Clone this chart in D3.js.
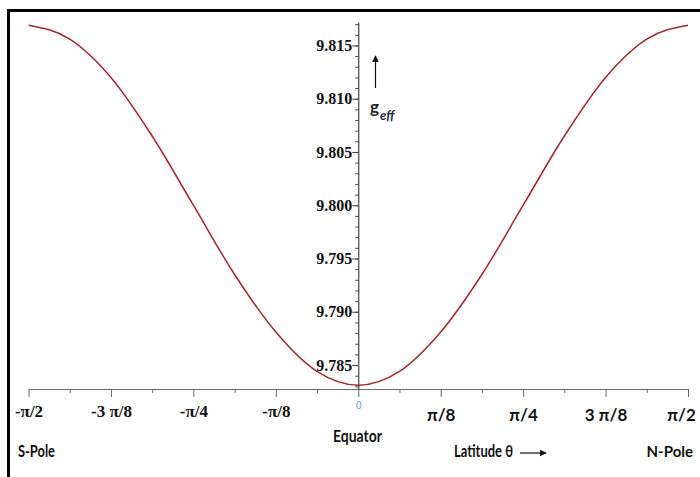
<!DOCTYPE html>
<html>
<head>
<meta charset="utf-8">
<script src="https://cdn.jsdelivr.net/npm/d3@7"></script>
<style>
  body { margin: 0; background: #fff; }
  svg { display: block; }
</style>
</head>
<body>
<div id="chart"></div>
<script>
// latitude in multiples of pi/16, from S-pole to N-pole
const latitudeSteps = [-8, -7, -6, -5, -4, -3, -2, -1, 0, 1, 2, 3, 4, 5, 6, 7, 8];
// effective gravity
const gEff = [9.8169, 9.8156, 9.8120, 9.8065, 9.8000, 9.7935, 9.7881, 9.7844, 9.7831,
              9.7844, 9.7881, 9.7935, 9.8000, 9.8065, 9.8120, 9.8156, 9.8169];
// x tick labels (multiples of pi/8)
const xTickSteps = [-4, -3, -2, -1, 0, 1, 2, 3, 4];
const xTickLabels = ['-π/2', '-3 π/8', '-π/4', '-π/8', '0', 'π/8', 'π/4', '3 π/8', 'π/2'];
const yMajorTicks = [9.785, 9.790, 9.795, 9.800, 9.805, 9.810, 9.815];
const yMinorTicks = d3.range(9.783, 9.8175, 0.001);

const width = 700, height = 477;

const svg = d3.select('#chart').append('svg')
  .attr('width', width)
  .attr('height', height);

// frame (top and left edges visible)
svg.append('path')
  .attr('d', 'M8.5,477 L8.5,10.5 L700,10.5')
  .attr('fill', 'none')
  .attr('stroke', '#000')
  .attr('stroke-width', 3);

const x = d3.scaleLinear().domain([-Math.PI / 2, Math.PI / 2]).range([28.5, 688]);
const y = d3.scaleLinear().domain([9.78275, 9.8172]).range([389, 22]);

const x0 = x(0), yAxisY = 389;

// x axis: minor ticks every pi/16
const xMinor = svg.append('g')
  .attr('transform', `translate(0,${yAxisY})`)
  .call(d3.axisBottom(x)
    .tickValues(d3.range(-7, 8, 2).map(k => k * Math.PI / 16))
    .tickSize(4).tickSizeOuter(0).tickFormat(''));
xMinor.select('.domain').remove();
xMinor.selectAll('line').attr('stroke', '#6a6a6a');

const xAxis = svg.append('g')
  .attr('transform', `translate(0,${yAxisY})`)
  .call(d3.axisBottom(x)
    .tickValues(xTickSteps.map(k => k * Math.PI / 8))
    .tickSize(8).tickSizeOuter(0)
    .tickFormat((d, i) => xTickLabels[i]));
xAxis.select('.domain').attr('stroke', '#6a6a6a').attr('stroke-width', 1.2);
xAxis.selectAll('line').attr('stroke', '#6a6a6a');
xAxis.selectAll('text').each(function (d, i) {
  const t = d3.select(this).attr('fill', '#111');
  if (i < 4) {
    t.attr('y', 16).attr('dy', '0.71em')
      .style('font-family', '"Liberation Serif", serif')
      .style('font-weight', 'bold').style('font-size', '17px');
  } else if (i === 4) {
    t.attr('y', 13).attr('dy', '0.71em').attr('fill', '#7f9fc2')
      .style('font-family', '"DejaVu Sans", sans-serif').style('font-size', '10px');
  } else {
    t.attr('y', 20).attr('dy', '0.71em')
      .style('font-family', 'Lato, sans-serif')
      .style('font-weight', 'bold').style('font-size', '17px');
  }
});
// the right-most label sits slightly left of its tick
xAxis.selectAll('text').filter((d, i) => i === 8).attr('x', -7);

// y axis
const yMinor = svg.append('g')
  .attr('transform', `translate(${x0},0)`)
  .call(d3.axisLeft(y).tickValues(yMinorTicks).tickSize(3).tickSizeOuter(0).tickFormat(''));
yMinor.select('.domain').remove();
yMinor.selectAll('line').attr('stroke', '#444');

const yAxis = svg.append('g')
  .attr('transform', `translate(${x0},0)`)
  .call(d3.axisLeft(y).tickValues(yMajorTicks).tickSize(6).tickSizeOuter(0)
    .tickFormat(d3.format('.3f')));
yAxis.select('.domain').attr('stroke', '#444').attr('stroke-width', 1.2);
yAxis.selectAll('line').attr('stroke', '#444');
yAxis.selectAll('text')
  .attr('x', -6)
  .attr('fill', '#111')
  .style('font-family', '"Liberation Serif", serif')
  .style('font-weight', 'bold')
  .style('font-size', '16px');

// curve
const line = d3.line()
  .x((d, i) => x(latitudeSteps[i] * Math.PI / 16))
  .y(d => y(d))
  .curve(d3.curveMonotoneX);

svg.append('path')
  .datum(gEff)
  .attr('d', line)
  .attr('fill', 'none')
  .attr('stroke', '#a3282c')
  .attr('stroke-width', 1.5);

// annotations (narrow, Calibri-like)
const sans = 'Lato, sans-serif';
function note(txt, xx, yy, len, anchor) {
  const t = svg.append('text').attr('x', xx).attr('y', yy)
    .attr('text-anchor', anchor || 'start')
    .style('font-family', sans).style('font-weight', 'bold').style('font-size', '17px')
    .attr('fill', '#111').text(txt);
  if (len) t.attr('textLength', len).attr('lengthAdjust', 'spacingAndGlyphs');
  return t;
}
note('S-Pole', 18, 457, 37);
note('Equator', 333, 442, 49);
note('Latitude θ', 454, 457, 59);
note('N-Pole', 693, 457, null, 'end').style('font-size', '15px');

// arrow markers
svg.append('defs').append('marker')
  .attr('id', 'arrow')
  .attr('viewBox', '0 0 10 10')
  .attr('refX', 9).attr('refY', 5)
  .attr('markerWidth', 7).attr('markerHeight', 7)
  .attr('markerUnits', 'userSpaceOnUse')
  .attr('orient', 'auto')
  .append('path').attr('d', 'M0,0 L10,5 L0,10 Z').attr('fill', '#111');

svg.append('line')
  .attr('x1', 520).attr('y1', 453).attr('x2', 546).attr('y2', 453)
  .attr('stroke', '#111').attr('stroke-width', 1.2)
  .attr('marker-end', 'url(#arrow)');

svg.append('line')
  .attr('x1', 375.5).attr('y1', 88).attr('x2', 375.5).attr('y2', 56)
  .attr('stroke', '#111').attr('stroke-width', 1.2)
  .attr('marker-end', 'url(#arrow)');

const gLabel = svg.append('text').attr('x', 370).attr('y', 113)
  .style('font-family', sans).style('font-weight', 'bold').attr('fill', '#222');
gLabel.append('tspan').style('font-size', '17px').text('g');
gLabel.append('tspan').attr('dy', 7).attr('dx', 1)
  .style('font-size', '13px').style('font-style', 'italic').attr('fill', '#1f2a44')
  .text('eff');
</script>
</body>
</html>
